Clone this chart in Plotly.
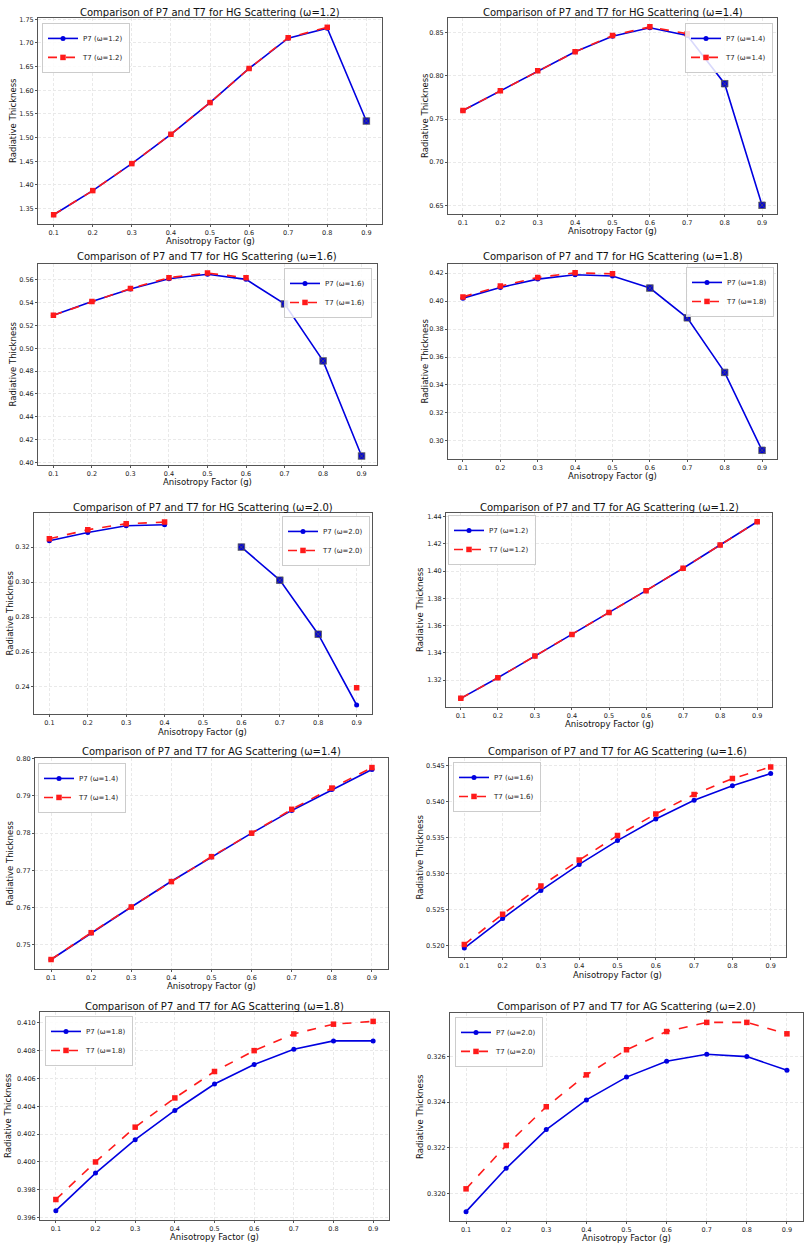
import plotly.graph_objects as go

# ---------------- data ----------------
g = [0.1, 0.2, 0.3, 0.4, 0.5, 0.6, 0.7, 0.8, 0.9]
g_ticks = ["0.1", "0.2", "0.3", "0.4", "0.5", "0.6", "0.7", "0.8", "0.9"]

hg_p7_12 = [1.337, 1.388, 1.445, 1.507, 1.574, 1.646, 1.710, 1.731, 1.535]
hg_t7_12 = [1.337, 1.388, 1.445, 1.507, 1.574, 1.646, 1.711, 1.733, None]
hg_p7_14 = [0.760, 0.783, 0.806, 0.828, 0.846, 0.856, 0.847, 0.791, 0.650]
hg_t7_14 = [0.760, 0.783, 0.806, 0.828, 0.847, 0.857, 0.849, None, None]
hg_p7_16 = [0.529, 0.541, 0.552, 0.561, 0.565, 0.5605, 0.539, 0.489, 0.4056]
hg_t7_16 = [0.529, 0.541, 0.5525, 0.562, 0.566, 0.562, None, None, None]
hg_p7_18 = [0.4021, 0.4097, 0.4157, 0.4188, 0.4179, 0.4093, 0.388, 0.349, 0.2933]
hg_t7_18 = [0.4030, 0.4107, 0.4169, 0.4202, 0.4195, None, None, None, None]
hg_p7_20 = [0.3236, 0.3284, 0.3322, 0.3328, None, 0.3200, 0.3011, 0.2702, 0.2297]
hg_t7_20 = [0.3248, 0.3299, 0.3334, 0.3343, None, None, None, None, 0.2396]

ag_p7_12 = [1.3066, 1.3217, 1.3376, 1.3534, 1.3695, 1.3856, 1.4020, 1.4190, 1.4361]
ag_t7_12 = [1.3066, 1.3217, 1.3376, 1.3534, 1.3695, 1.3856, 1.4020, 1.4190, 1.4361]
ag_p7_14 = [0.7461, 0.7532, 0.7602, 0.7671, 0.7736, 0.7800, 0.7861, 0.7917, 0.7971]
ag_t7_14 = [0.7461, 0.7533, 0.7602, 0.7670, 0.7737, 0.7800, 0.7864, 0.7921, 0.7976]
ag_p7_16 = [0.5197, 0.5238, 0.5277, 0.5313, 0.5346, 0.5376, 0.5402, 0.5422, 0.5439]
ag_t7_16 = [0.5202, 0.5244, 0.5283, 0.5319, 0.5353, 0.5383, 0.5410, 0.5432, 0.5448]
ag_p7_18 = [0.3965, 0.3992, 0.4016, 0.4037, 0.4056, 0.4070, 0.4081, 0.4087, 0.4087]
ag_t7_18 = [0.3973, 0.4000, 0.4025, 0.4046, 0.4065, 0.4080, 0.4092, 0.4099, 0.4101]
ag_p7_20 = [0.3192, 0.3211, 0.3228, 0.3241, 0.3251, 0.3258, 0.3261, 0.3260, 0.3254]
ag_t7_20 = [0.3202, 0.3221, 0.3238, 0.3252, 0.3263, 0.3271, 0.3275, 0.3275, 0.3270]

# ---------------- layout of panels (pixel boxes) ----------------
W, H = 809, 1249
FONT = "DejaVu Sans, Liberation Sans, sans-serif"

panels = [
    dict(kind="HG", w="1.2", p=hg_p7_12, t=hg_t7_12, box=(38, 382, 15, 222), dt=0.05, fmt=".2f",
         ylab_x=13, xlab_y=239, title_y=10, leg=("left", 42, 20)),
    dict(kind="HG", w="1.4", p=hg_p7_14, t=hg_t7_14, box=(448, 777, 15, 212), dt=0.05, fmt=".2f",
         ylab_x=425, xlab_y=229, title_y=10, leg=("right", 773, 20)),
    dict(kind="HG", w="1.6", p=hg_p7_16, t=hg_t7_16, box=(38, 377, 262, 464), dt=0.02, fmt=".2f",
         ylab_x=13, xlab_y=481, title_y=255, leg=("right", 372, 266)),
    dict(kind="HG", w="1.8", p=hg_p7_18, t=hg_t7_18, box=(448, 777, 262, 458), dt=0.02, fmt=".2f",
         ylab_x=425, xlab_y=475, title_y=255, leg=("right", 774, 265)),
    dict(kind="HG", w="2.0", p=hg_p7_20, t=hg_t7_20, box=(34, 372, 512, 714), dt=0.02, fmt=".2f",
         ylab_x=10, xlab_y=732, title_y=507, leg=("right", 370, 515)),
    dict(kind="AG", w="1.2", p=ag_p7_12, t=ag_t7_12, box=(446, 772, 512, 707), dt=0.02, fmt=".2f",
         ylab_x=420, xlab_y=724, title_y=507, leg=("left", 448, 514)),
    dict(kind="AG", w="1.4", p=ag_p7_14, t=ag_t7_14, box=(35, 388, 758, 970), dt=0.01, fmt=".2f",
         ylab_x=10, xlab_y=987, title_y=752, leg=("left", 38, 763)),
    dict(kind="AG", w="1.6", p=ag_p7_16, t=ag_t7_16, box=(449, 786, 758, 958), dt=0.005, fmt=".3f",
         ylab_x=420, xlab_y=976, title_y=752, leg=("left", 453, 762)),
    dict(kind="AG", w="1.8", p=ag_p7_18, t=ag_t7_18, box=(40, 389, 1013, 1222), dt=0.002, fmt=".3f",
         ylab_x=8, xlab_y=1239, title_y=1008, leg=("left", 45, 1017)),
    dict(kind="AG", w="2.0", p=ag_p7_20, t=ag_t7_20, box=(450, 803, 1014, 1223), dt=0.002, fmt=".3f",
         ylab_x=420, xlab_y=1240, title_y=1008, leg=("left", 455, 1018)),
]

fig = go.Figure()
annotations = []
layout = {}

for i, pn in enumerate(panels):
    n = i + 1
    sx = "" if n == 1 else str(n)
    xa, ya = "x" + sx, "y" + sx
    lg = "legend" + sx
    L, R, T, B = pn["box"]

    fig.add_trace(go.Scatter(
        x=g, y=pn["p"], xaxis=xa, yaxis=ya, legend=lg, mode="lines+markers",
        name=f"P7 (ω={pn['w']})",
        line=dict(color="#0000e0", width=1.6),
        marker=dict(symbol="circle", size=5, color="#0000e0")))
    fig.add_trace(go.Scatter(
        x=g, y=pn["t"], xaxis=xa, yaxis=ya, legend=lg, mode="lines+markers",
        name=f"T7 (ω={pn['w']})",
        line=dict(color="#ff1a1a", width=1.6, dash="dash"),
        marker=dict(symbol="square", size=5.5, color="#ff1a1a")))
    # points where T7 is missing: crossed marker
    xs = [gx for gx, pv, tv in zip(g, pn["p"], pn["t"]) if tv is None and pv is not None]
    ys = [pv for pv, tv in zip(pn["p"], pn["t"]) if tv is None and pv is not None]
    if xs:
        fig.add_trace(go.Scatter(
            x=xs, y=ys, xaxis=xa, yaxis=ya, mode="markers", showlegend=False,
            marker=dict(symbol="square-x", size=6.5, color="#0000e0",
                        line=dict(color="#555555", width=0.8))))

    vals = [v for v in pn["p"] + pn["t"] if v is not None]
    lo, hi = min(vals), max(vals)
    pad = (hi - lo) * 0.05

    axis_common = dict(showline=True, mirror=True, linecolor="#555555", linewidth=1,
                       ticks="outside", ticklen=2, tickcolor="#555555",
                       showgrid=True, gridcolor="#e9e9e9", griddash="3px,2px", gridwidth=0.7,
                       zeroline=False, tickfont=dict(family=FONT, size=6.5, color="#222"))
    layout["xaxis" + sx] = dict(axis_common, domain=[L / W, R / W], anchor=ya,
                                range=[0.06, 0.94], tickvals=g, ticktext=g_ticks)
    layout["yaxis" + sx] = dict(axis_common, domain=[1 - B / H, 1 - T / H], anchor=xa,
                                range=[lo - pad, hi + pad], dtick=pn["dt"], tick0=0,
                                tickformat=pn["fmt"])

    side, lx, ly = pn["leg"]
    layout[lg] = dict(x=lx / W, y=1 - ly / H, xanchor=side, yanchor="top",
                      bgcolor="rgba(255,255,255,0.85)", bordercolor="#cccccc", borderwidth=1,
                      font=dict(family=FONT, size=7, color="#222"),
                      itemwidth=30, tracegroupgap=0)

    annotations.append(dict(text=f"Comparison of P7 and T7 for {pn['kind']} Scattering (ω={pn['w']})",
                            x=(L + R) / 2 / W, y=1 - pn["title_y"] / H, xref="paper", yref="paper",
                            showarrow=False, xanchor="center", yanchor="middle",
                            font=dict(family=FONT, size=10, color="#111")))
    annotations.append(dict(text="Anisotropy Factor (g)",
                            x=(L + R) / 2 / W, y=1 - pn["xlab_y"] / H, xref="paper", yref="paper",
                            showarrow=False, xanchor="center", yanchor="middle",
                            font=dict(family=FONT, size=8.5, color="#111")))
    annotations.append(dict(text="Radiative Thickness", textangle=-90,
                            x=pn["ylab_x"] / W, y=1 - (T + B) / 2 / H, xref="paper", yref="paper",
                            showarrow=False, xanchor="center", yanchor="middle",
                            font=dict(family=FONT, size=8.5, color="#111")))

fig.update_layout(
    width=W, height=H, margin=dict(l=0, r=0, t=0, b=0),
    paper_bgcolor="white", plot_bgcolor="white",
    font=dict(family=FONT),
    annotations=annotations,
    **layout)

fig.write_html("out.html", config={"displayModeBar": False},
               post_script="document.body.style.margin='0';document.body.style.overflow='hidden';")
